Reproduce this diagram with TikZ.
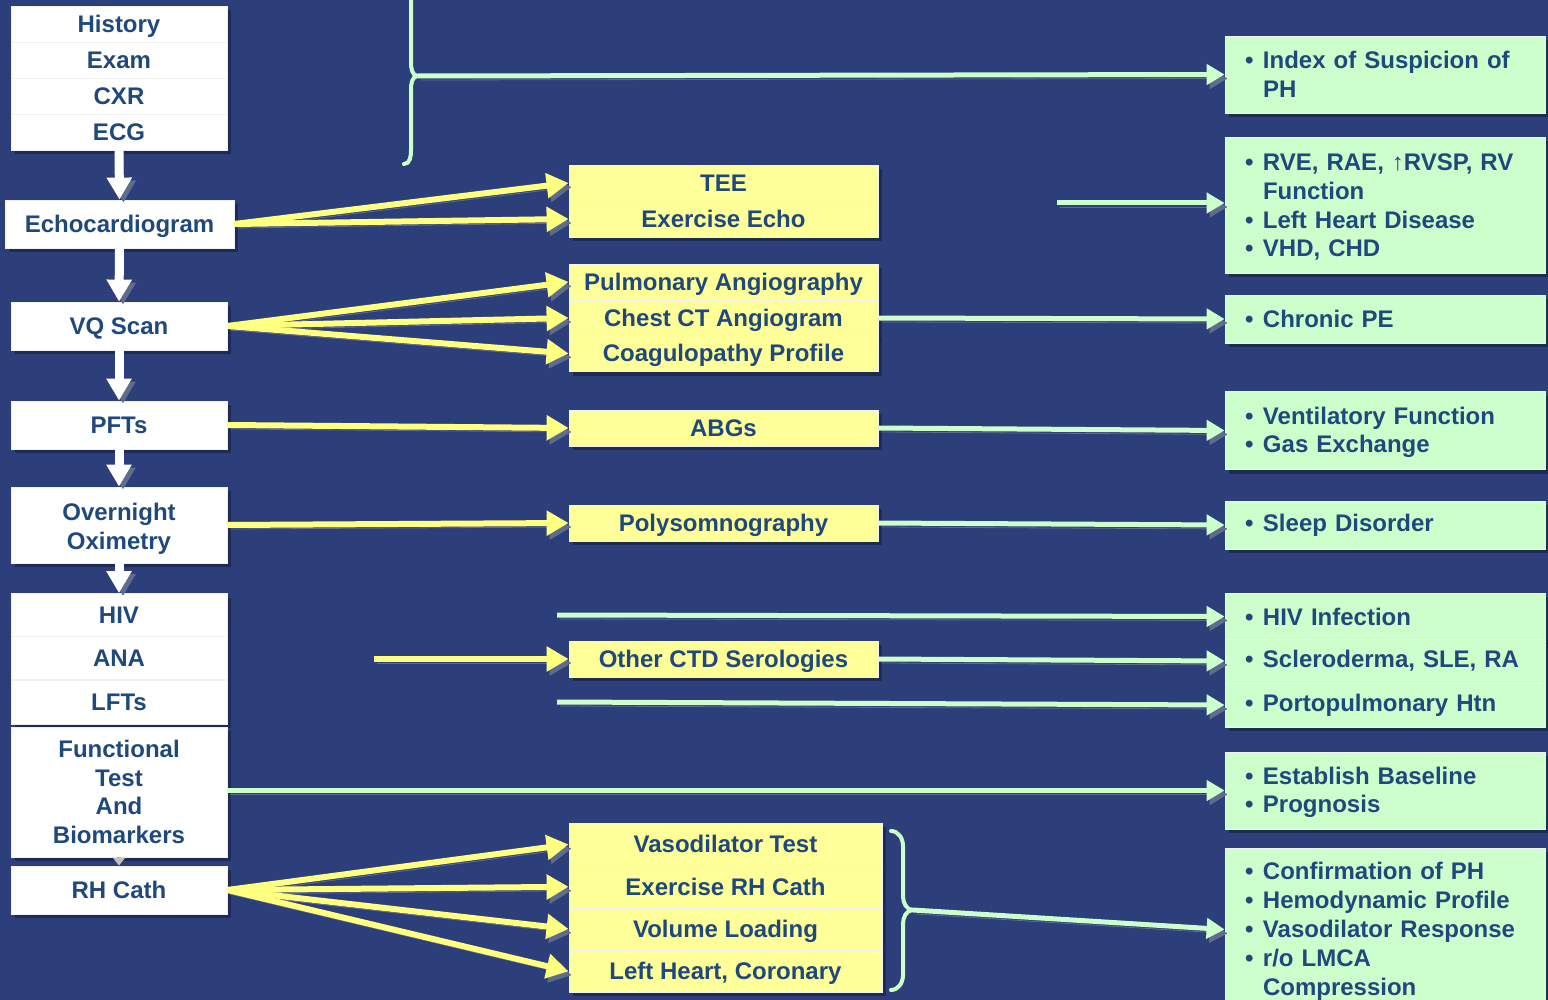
\documentclass[tikz,border=0pt]{standalone}
\usepackage{fontspec}
\setmainfont{Liberation Sans}
\usetikzlibrary{arrows.meta,shadows}

\definecolor{bgblue}{RGB}{44,63,122}
\definecolor{txtblue}{RGB}{31,73,125}
\definecolor{boxyellow}{RGB}{255,255,153}
\definecolor{boxgreen}{RGB}{204,255,204}
\definecolor{arryellow}{RGB}{255,255,128}
\definecolor{arrgreen}{RGB}{204,255,204}
\definecolor{shade}{RGB}{96,108,142}

\newcommand{\bul}{\makebox[9pt][l]{\textbullet}}
\newcommand{\cont}{\hspace*{9pt}}

\tikzset{
  box/.style={text=txtblue, font=\fontsize{12}{14.4}\selectfont\bfseries, inner sep=0pt,
    drop shadow={shadow xshift=2pt, shadow yshift=-2pt, opacity=0.3, fill=black}},
  wtall/.style={box, fill=white, draw=black!6, align=center, minimum width=108pt},
  wbox/.style={wtall, text height=8.6pt, text depth=0.2pt},
  ybox/.style={box, fill=boxyellow, draw=black!5, align=center, minimum width=154.5pt,
    minimum height=18pt, text height=8.6pt, text depth=0.2pt},
  gbox/.style={box, fill=boxgreen, draw=black!5, align=left, inner xsep=10pt, text width=140pt},
  darr/.style={draw=white, line width=4.5pt, -{Triangle[width=12pt,length=11pt]},
    preaction={draw=shade, transform canvas={shift={(2pt,-1.5pt)}}}},
  yarr/.style={draw=arryellow, line width=3pt, -{Triangle[width=12pt,length=11pt]},
    preaction={draw=shade, transform canvas={shift={(1.5pt,-2pt)}}}},
  garr/.style={draw=arrgreen, line width=2.5pt, -{Triangle[width=10pt,length=9pt]},
    preaction={draw=shade, transform canvas={shift={(1.5pt,-2pt)}}}},
  brc/.style={draw=arrgreen, line width=2pt, line cap=round}
}

\begin{document}
\begin{tikzpicture}[x=0.5pt, y=-0.5pt]
  \fill[bgblue] (0,0) rectangle (1548,1000);
  \useasboundingbox (0,0) rectangle (1548,1000);

  % tests on the left
  \node[wbox, minimum height=18pt] (hist) at (119,24) {History};
  \node[wbox, minimum height=18pt] (exam) at (119,60) {Exam};
  \node[wbox, minimum height=18pt] (cxr) at (119,96) {CXR};
  \node[wbox, minimum height=18pt] (ecg) at (119,132) {ECG};
  \node[wbox, minimum width=114.5pt, minimum height=24pt] (echo) at (119.5,224) {Echocardiogram};
  \node[wbox, minimum height=24pt] (vq) at (119,326) {VQ Scan};
  \node[wbox, minimum height=24pt] (pft) at (119,425) {PFTs};
  \node[wtall, minimum height=38pt] (oxim) at (119,525) {\rule{0pt}{12.5pt}Overnight\\Oximetry};
  \node[wbox, minimum height=21.5pt] (hiv) at (119,615) {HIV};
  \node[wbox, minimum height=21.5pt] (ana) at (119,658) {ANA};
  \node[wbox, minimum height=22pt] (lft) at (119,702) {LFTs};
  \node[wtall, minimum height=65pt] (func) at (119,792) {Functional\\Test\\And\\Biomarkers};
  \node[wbox, minimum height=24pt] (rhc) at (119,890) {RH Cath};

  \draw[darr] (ecg.south) -- (echo.north);
  \draw[darr] (echo.south) -- (vq.north);
  \draw[darr] (vq.south) -- (pft.north);
  \draw[darr] (pft.south) -- (oxim.north);
  \draw[darr] (oxim.south) -- (hiv.north);
  \draw[draw=black!25, line width=2pt, -{Triangle[width=6pt,length=4pt]}] (func.south) -- (rhc.north);

  % further tests
  \node[ybox] (tee) at (723.5,183) {TEE};
  \node[ybox] (exe) at (723.5,219) {Exercise Echo};
  \node[ybox] (pang) at (723.5,282) {Pulmonary Angiography};
  \node[ybox] (cct) at (723.5,318) {Chest CT Angiogram};
  \node[ybox] (coag) at (723.5,353.5) {Coagulopathy Profile};
  \node[ybox] (abg) at (723.5,428) {ABGs};
  \node[ybox] (poly) at (723.5,523) {Polysomnography};
  \node[ybox] (ctd) at (723.5,659) {Other CTD Serologies};
  \node[ybox, minimum width=156.5pt, minimum height=21.1pt] (vaso) at (725.5,844.5) {Vasodilator Test};
  \node[ybox, minimum width=156.5pt, minimum height=21.1pt] (exrh) at (725.5,886.8) {Exercise RH Cath};
  \node[ybox, minimum width=156.5pt, minimum height=21.1pt] (vol) at (725.5,929) {Volume Loading};
  \node[ybox, minimum width=156.5pt, minimum height=21.1pt] (lhc) at (725.5,971.3) {Left Heart, Coronary};

  % findings
  \node[gbox, minimum height=38.5pt] (susp) at (1385,74.5) {\bul Index of Suspicion of\\\cont PH};
  \node[gbox, minimum height=68pt] (rve) at (1385,205) {\rule{0pt}{10.5pt}\bul RVE, RAE, ↑RVSP, RV\\\cont Function\\\bul Left Heart Disease\\\bul VHD, CHD};
  \node[gbox, minimum height=24pt] (cpe) at (1385,319) {\bul Chronic PE};
  \node[gbox, minimum height=39pt] (vent) at (1385,430.5) {\rule{0pt}{10.5pt}\bul Ventilatory Function\\\bul Gas Exchange};
  \node[gbox, minimum height=24pt] (sleep) at (1385,525) {\bul Sleep Disorder};
  \node[gbox, minimum height=23pt] (hinf) at (1385,616.5) {\bul HIV Infection};
  \node[gbox, minimum height=22pt] (scl) at (1385,661) {\bul Scleroderma, SLE, RA};
  \node[gbox, minimum height=22pt] (porto) at (1385,705) {\bul Portopulmonary Htn};
  \node[gbox, minimum height=38.5pt] (base) at (1385,790.5) {\rule{0pt}{10.5pt}\bul Establish Baseline\\\bul Prognosis};
  \node[gbox, minimum height=81.5pt] (conf) at (1385,929.5) {\rule{0pt}{10.5pt}\bul Confirmation of PH\\\bul Hemodynamic Profile\\\bul Vasodilator Response\\\bul r/o LMCA\\\cont Compression};

  % yellow arrows
  \draw[yarr] (echo.east) -- (tee.west);
  \draw[yarr] (echo.east) -- (exe.west);
  \draw[yarr] (vq.east) -- (pang.west);
  \draw[yarr] (vq.east) -- (cct.west);
  \draw[yarr] (vq.east) -- (coag.west);
  \draw[yarr] (pft.east) -- (abg.west);
  \draw[yarr] (oxim.east) -- (poly.west);
  \coordinate (anaend) at (374,659);
  \draw[yarr] (anaend) -- (ctd.west);
  \draw[yarr] (rhc.east) -- (vaso.west);
  \draw[yarr] (rhc.east) -- (exrh.west);
  \draw[yarr] (rhc.east) -- (vol.west);
  \draw[yarr] (rhc.east) -- (lhc.west);

  % braces
  \draw[brc] (404,164) to[out=0,in=-90] (411,150) -- (411,90) to[out=90,in=180] (418,76) coordinate (tipA);
  \draw[brc] (tipA) to[out=180,in=-90] (411,62) -- (411,-5);
  \draw[brc] (891,831) to[out=0,in=90] (903,846) -- (903,896) to[out=-90,in=180] (913,910) coordinate (tipB);
  \draw[brc] (tipB) to[out=180,in=90] (903,924) -- (903,975) to[out=-90,in=0] (891,990);

  % green arrows
  \coordinate (echoend) at (1057,203);
  \coordinate (hivend) at (557,615);
  \coordinate (lftend) at (557,702);
  \draw[garr] (tipA) -- (susp.west);
  \draw[garr] (echoend) -- (rve.west |- echoend);
  \draw[garr] (cct.east) -- (cpe.west);
  \draw[garr] (abg.east) -- (vent.west);
  \draw[garr] (poly.east) -- (sleep.west);
  \draw[garr] (hivend) -- (hinf.west);
  \draw[garr] (ctd.east) -- (scl.west);
  \draw[garr] (lftend) -- (porto.west);
  \draw[garr] (func.east |- base.west) -- (base.west);
  \draw[garr] (tipB) -- (conf.west);
\end{tikzpicture}
\end{document}
